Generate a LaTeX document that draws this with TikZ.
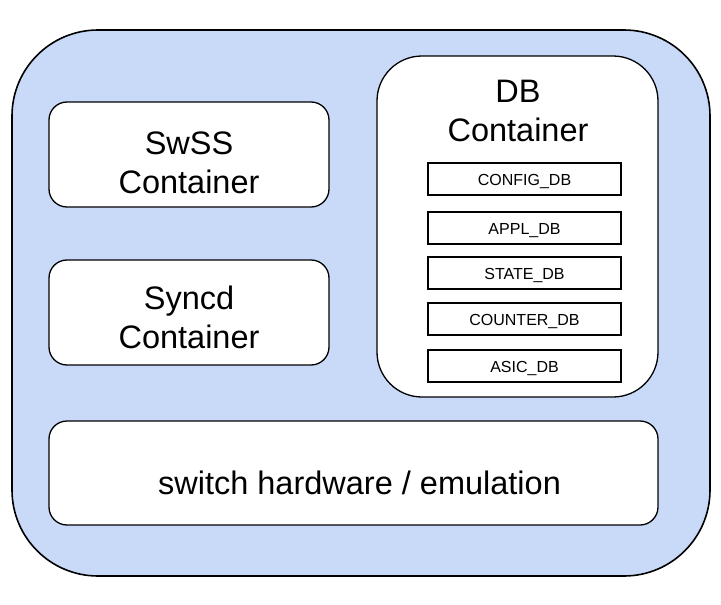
\documentclass[tikz,border=0pt]{standalone}
\usepackage{fontspec}
\setmainfont{Liberation Sans}
\usetikzlibrary{positioning}

\definecolor{hostblue}{HTML}{C9DAF8}

\begin{document}
\begin{tikzpicture}[
    x=1pt, y=-1pt,
    host/.style={draw, line width=1.6pt, fill=hostblue, rounded corners=86pt, minimum width=698pt, minimum height=546pt},
    container/.style={draw, line width=1.3pt, fill=white, rounded corners=18pt},
    dbbox/.style={draw, line width=1.3pt, fill=white, minimum width=193pt, minimum height=32pt, text height=15.5pt, text depth=2pt, font=\fontsize{16}{19}\selectfont},
    title/.style={align=center, font=\fontsize{32.5}{39}\selectfont},
]

\useasboundingbox (0,0) rectangle (721,605);

% Host
\node[host] (host) at (361, 303) {};

% Containers
\node[container, minimum width=280pt, minimum height=105pt] (swss) at (189, 154.5) {};
\node[title] (swsstitle) at ([yshift=-8pt]swss.center) {SwSS\\Container};
\node[container, minimum width=280pt, minimum height=105pt] (syncd) at (189, 312.5) {};
\node[title] (syncdtitle) at ([yshift=-4.5pt]syncd.center) {Syncd\\Container};
\node[container, rounded corners=45pt, minimum width=281pt, minimum height=341pt] (db) at (517.5, 226.5) {};
\node[title] (dbtitle) at (518, 111) {DB\\Container};

% Databases
\node[dbbox] (configdb) at (524.5, 179) {CONFIG\_DB};
\node[dbbox] (appldb) at (524.5, 228) {APPL\_DB};
\node[dbbox] (statedb) at (524.5, 273) {STATE\_DB};
\node[dbbox] (counterdb) at (524.5, 319) {COUNTER\_DB};
\node[dbbox] (asicdb) at (524.5, 366) {ASIC\_DB};

% Hardware
\node[container, minimum width=609pt, minimum height=104pt] (hw) at (353.5, 473) {};
\node[title] (hwtitle) at ([xshift=6pt, yshift=-10pt]hw.center) {switch hardware / emulation};

\end{tikzpicture}
\end{document}
